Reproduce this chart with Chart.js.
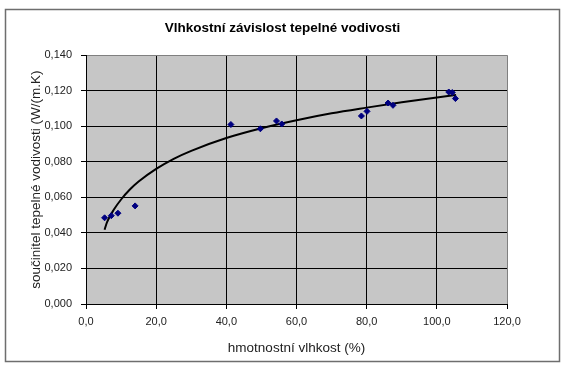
<!DOCTYPE html>
<html>
<head>
<meta charset="utf-8">
<script src="https://cdn.jsdelivr.net/npm/chart.js@4"></script>
<style>
  html, body { margin: 0; padding: 0; background: #fff; }
  #wrap { width: 565px; height: 370px; }
</style>
</head>
<body>
<div id="wrap"><canvas id="chart" width="565" height="370"></canvas></div>
<script>
// measured points: moisture content (%) vs. thermal conductivity
const vlhkost = [5.3, 7.2, 9.1, 14.0, 41.3, 49.7, 54.3, 55.8, 78.5, 80.1, 86.1, 87.5, 103.4, 104.4, 105.3];
const vodivost = [0.0485, 0.0497, 0.0511, 0.0552, 0.1010, 0.0986, 0.1030, 0.1013, 0.1058, 0.1084, 0.1131, 0.1118, 0.1193, 0.1190, 0.1156];

// trend line
const trendX = [5.3, 6, 8, 10, 12.5, 15, 20, 25, 30, 40, 50, 60, 70, 80, 90, 100, 105.5];
const trendY = [0.0418, 0.0461, 0.0533, 0.0588, 0.0644, 0.0689, 0.0760, 0.0817, 0.0862, 0.0934, 0.0989, 0.1034, 0.1073, 0.1105, 0.1135, 0.1162, 0.1176];

const xTicks = ['0,0', '20,0', '40,0', '60,0', '80,0', '100,0', '120,0'];
const yTicks = ['0,000', '0,020', '0,040', '0,060', '0,080', '0,100', '0,120', '0,140'];

const title = 'Vlhkostní závislost tepelné vodivosti';
const xTitle = 'hmotnostní vlhkost (%)';
const yTitle = 'součinitel tepelné vodivosti (W/(m.K)';

const points = vlhkost.map((x, i) => ({ x: x, y: vodivost[i] }));
const trend = trendX.map((x, i) => ({ x: x, y: trendY[i] }));

const frame = {
    id: 'frame',
    beforeDraw(chart) {
        const c = chart.ctx;
        const a = chart.chartArea;
        c.save();
        c.fillStyle = '#fff';
        c.fillRect(0, 0, chart.width, chart.height);
        c.strokeStyle = '#6e6e6e';
        c.lineWidth = 1.5;
        c.strokeRect(5.5, 9.5, 554, 352);
        c.fillStyle = '#c6c6c6';
        c.fillRect(a.left, a.top, a.right - a.left, a.bottom - a.top);
        c.restore();
    }
};

const ctx = document.getElementById('chart').getContext('2d');
const chart = new Chart(ctx, {
    type: 'scatter',
    data: {
        datasets: [{
            type: 'line',
            data: trend,
            borderColor: '#000',
            borderWidth: 2,
            pointRadius: 0,
            cubicInterpolationMode: 'monotone',
            fill: false,
            order: 1,
        }, {
            data: points,
            pointStyle: 'rectRot',
            pointRadius: 3,
            backgroundColor: '#000080',
            borderColor: '#000080',
            borderWidth: 1,
            order: 0,
        }]
    },
    options: {
        responsive: false,
        animation: false,
        // symmetric padding keeps the title centred on the whole picture
        layout: { padding: { left: 29, right: 29, top: 0, bottom: 0 } },
        plugins: {
            legend: { display: false },
            tooltip: { enabled: false },
            title: {
                display: true,
                text: title,
                color: '#000',
                font: { family: 'Liberation Sans', size: 13.5, weight: 'bold' },
                padding: { top: 20, bottom: 19 },
            },
        },
        scales: {
            x: {
                type: 'linear',
                min: 0,
                max: 120,
                afterFit: s => { s.height = 66; },
                ticks: {
                    stepSize: 20,
                    padding: 6,
                    color: '#222',
                    font: { family: 'Liberation Sans', size: 11 },
                    callback: (v) => xTicks[Math.round(v / 20)],
                },
                grid: {
                    color: c => (c.tick && c.tick.value >= 119) ? '#808080' : '#000',
                    tickColor: '#000',
                    tickLength: 5,
                },
                border: { color: '#000', width: 1 },
                title: {
                    display: true,
                    text: xTitle,
                    color: '#222',
                    font: { family: 'Liberation Sans', size: 13.5 },
                    padding: { top: 0, bottom: 14 },
                },
            },
            y: {
                type: 'linear',
                min: 0,
                max: 0.14,
                afterFit: s => { s.width = 57; },
                ticks: {
                    stepSize: 0.02,
                    padding: 9,
                    color: '#222',
                    font: { family: 'Liberation Sans', size: 11 },
                    callback: (v) => yTicks[Math.round(v / 0.02)],
                },
                grid: {
                    color: c => (c.tick && c.tick.value >= 0.139) ? '#808080' : '#000',
                    tickColor: '#000',
                    tickLength: 5,
                },
                border: { color: '#000', width: 1 },
                title: {
                    display: true,
                    text: yTitle,
                    color: '#222',
                    font: { family: 'Liberation Sans', size: 13.5 },
                    padding: { top: -1, bottom: 0 },
                },
            },
            // empty spacer on the right, only takes room
            spacer: {
                type: 'linear',
                position: 'right',
                min: 0,
                max: 1,
                afterFit: s => { s.width = 29; },
                grid: { display: false },
                ticks: { display: false },
                border: { display: false },
            }
        }
    },
    plugins: [frame]
});
</script>
</body>
</html>
